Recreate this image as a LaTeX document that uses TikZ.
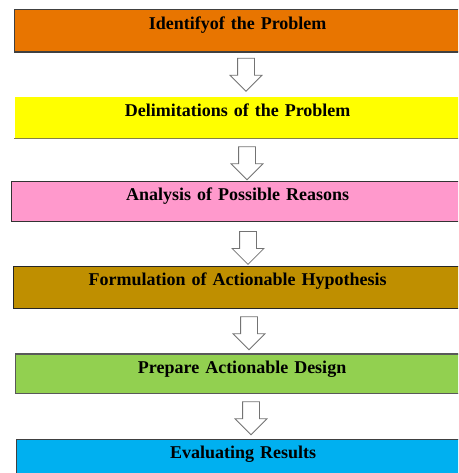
\documentclass[tikz,border=0pt]{standalone}
\usepackage{fontspec}
\setmainfont{Liberation Serif}
\usetikzlibrary{shapes.arrows}

\definecolor{identifyOrange}{HTML}{E87500}
\definecolor{delimitYellow}{HTML}{FFFF00}
\definecolor{analysisPink}{HTML}{FF99CC}
\definecolor{hypothesisGold}{HTML}{BF8F00}
\definecolor{designGreen}{HTML}{92D050}
\definecolor{resultBlue}{HTML}{00B0F0}

\begin{document}
\begin{tikzpicture}[x=1pt, y=-1pt,
    stage/.style={anchor=north west, inner sep=0pt, align=center, text height=19.5pt,
        line width=1.2pt, font=\fontsize{18}{20}\selectfont\bfseries},
    down/.style={single arrow, shape border rotate=270, draw=black!55, fill=white,
        line width=0.8pt, minimum height=33pt, minimum width=31pt,
        single arrow head extend=7.5pt, inner sep=8pt}]

    % === 畫布 ===
    \useasboundingbox (0,0) rectangle (458,473);
    \clip (0,0) rectangle (458,473);

    % === 六個步驟 ===
    \node[stage, fill=identifyOrange, draw=black!75, text width=446pt, text depth=23pt]
        (identify) at (14,9) {Identifyof the Problem};
    \node[stage, fill=delimitYellow, draw=none, text width=446pt, text depth=22pt]
        (delimit) at (14,96) {Delimitations of the Problem};
    \node[stage, fill=analysisPink, draw=black!80, text width=452pt, text depth=20.5pt]
        (analysis) at (11,180.7) {Analysis of Possible Reasons};
    \node[stage, fill=hypothesisGold, draw=black!85, text width=448pt, text depth=22.3pt]
        (hypothesis) at (13,265.7) {Formulation of Actionable Hypothesis};
    \node[stage, fill=designGreen, draw=black!65, text width=453pt, text depth=20.2pt]
        (design) at (15,353.3) {Prepare Actionable Design};
    \node[stage, fill=resultBlue, draw=black!75, text width=453pt, text depth=22pt]
        (result) at (16,438.7) {Evaluating Results};

    % 黃色框的下緣陰影
    \draw[line width=1.2pt, yellow!45!black] (delimit.south west) -- (delimit.south east);

    % === 中間箭頭 ===
    \node[down] (step1) at (246,70.5) {};
    \node[down] (step2) at (247,159) {};
    \node[down] (step3) at (248,243.7) {};
    \node[down] (step4) at (249,329) {};
    \node[down] (step5) at (251,414) {};

\end{tikzpicture}
\end{document}
